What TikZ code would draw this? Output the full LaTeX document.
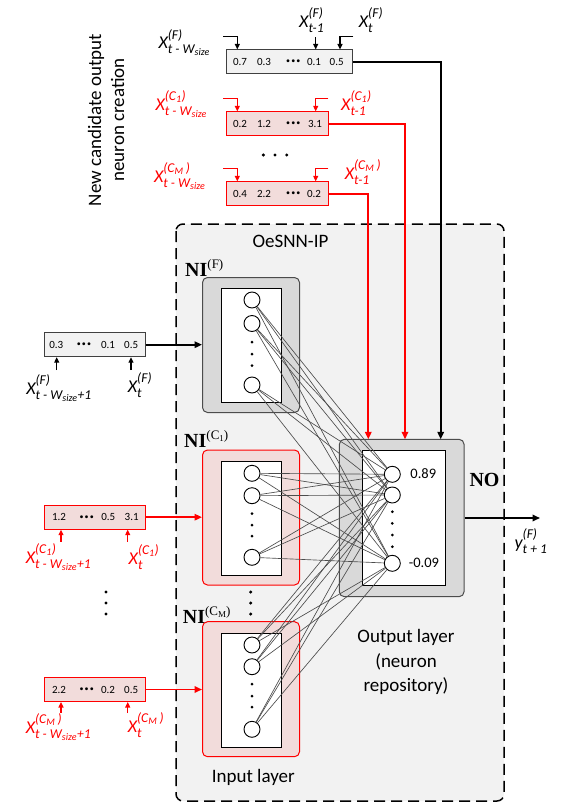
\documentclass[tikz,border=0pt]{standalone}
\usepackage{amsmath}
\usepackage{fontspec}
\setmainfont{Carlito}
\newfontfamily\serifbf{Liberation Serif}
\usetikzlibrary{arrows.meta}
\definecolor{bgray}{HTML}{F2F2F2}
\definecolor{mgray}{HTML}{D9D9D9}
\definecolor{pinkf}{HTML}{F2DCDB}
\definecolor{rred}{HTML}{FF0000}
\DeclareMathSizes{18}{18}{13.5}{10}
\newcommand\lbl[3]{\fontsize{18}{21}\selectfont$\fontdimen14\textfont2=9.5pt\fontdimen17\textfont2=5pt\textit{#1}^{#2}_{#3}$}
\newcommand\nilab[1]{{\serifbf\fontsize{20}{20}\selectfont\textbf{NI}\raisebox{8pt}{\fontsize{13}{13}\selectfont(#1)}}}
\newcommand\sbsc[1]{\raisebox{-2pt}{\fontsize{9}{9}\selectfont #1}}
\newcommand\supF{\textit{(F)}}
\newcommand\supA{\textit{(}\textit{C}_{\textit{1}}\textit{)}}
\newcommand\supB{\textit{(}\textit{C}_{\textit{M}}\textit{\,)}}
\newcommand\subW{\textit{t - W}_{\textit{size}}}
\newcommand\subWp{\textit{t - W}_{\textit{size}}\textit{+1}}
\newcommand\subm{\textit{t-1}}
\newcommand\subt{\textit{t}}
\newcommand\bul{{\fontsize{8}{8}\selectfont\textbullet\kern1.2pt\textbullet\kern1.2pt\textbullet}}
\begin{document}
\begin{tikzpicture}[x=1pt,y=-1pt,
  arr/.style={line width=1.7pt,-{Triangle[length=7.5pt,width=6.5pt]}},
  sarr/.style={line width=1.1pt,-{Triangle[length=5.5pt,width=5pt]}},
  neuron/.style={circle,draw,line width=0.9pt,fill=white,minimum size=16pt,inner sep=0pt},
  conn/.style={draw=black!70,line width=0.65pt},
  graybox/.style={draw=black!70,line width=1pt,fill=mgray,rounded corners=5pt,minimum width=97pt,minimum height=135pt,inner sep=0pt},
  pinkbox/.style={draw=rred,line width=1pt,fill=pinkf,rounded corners=5pt,minimum width=97pt,minimum height=135pt,inner sep=0pt},
  whitebox/.style={draw=black,line width=1pt,fill=white,minimum width=60pt,minimum height=114pt,inner sep=0pt},
  fbuf/.style={draw=black!75,line width=1pt,fill=bgray,minimum height=23.5pt,inner sep=0pt},
  rbuf/.style={draw=rred,line width=1pt,fill=pinkf,minimum height=24pt,inner sep=0pt},
  val/.style={font=\fontsize{11}{11}\selectfont,inner sep=0pt},
  big/.style={font=\fontsize{19}{24.5}\selectfont,inner sep=0pt,align=center},
  bdot/.style={circle,fill=black,inner sep=0pt,minimum size=3.4pt},
  ndot/.style={circle,fill=black,inner sep=0pt,minimum size=3pt},
  lab/.style={inner sep=0pt},
  rlab/.style={inner sep=0pt,text=rred},
]
\useasboundingbox (0,0) rectangle (564,806);
% background of OeSNN-IP
\draw[line width=1.5pt,dash pattern=on 11pt off 6pt,fill=bgray,rounded corners=7pt] (176,224) rectangle (504,801);
\node[big] (title) at (290.5,241) {OeSNN-IP};
% input layer boxes
\node[graybox] (niF) at (251,345) {};
\node[whitebox] (wF) at (251,345.3) {};
\node[pinkbox] (niA) at (251,517.5) {};
\node[whitebox] (wA) at (251,518) {};
\node[pinkbox] (niB) at (251,689.2) {};
\node[whitebox] (wB) at (251,690) {};
% output box
\node[graybox,minimum width=124.7pt,minimum height=157.4pt] (no) at (401.7,518) {};
\node[whitebox,minimum width=83.4pt,minimum height=135.3pt] (wO) at (404,518.3) {};
% neurons
\foreach \n/\y in {1/300,2/323.5,3/385} \node[neuron] (iF\n) at (252,\y) {};
\foreach \n/\y in {1/473.3,2/495.7,3/557.3} \node[neuron] (iA\n) at (252,\y) {};
\foreach \n/\y in {1/645,2/666.7,3/729.3} \node[neuron] (iB\n) at (252,\y) {};
\foreach \n/\y in {1/474.3,2/495,3/563.3} \node[neuron] (o\n) at (392.3,\y) {};
\foreach \i in {iF1,iF2,iF3,iA1,iA2,iA3,iB1,iB2,iB3}
  \foreach \o in {o1,o2,o3} \draw[conn] (\i) -- (\o);
% neuron dots
\foreach \y in {342,354,365.5,513.5,525,536,684,696,707} \node[ndot] at (252,\y) {};
\foreach \y in {511.7,523.3,535,546.7} \node[ndot] at (392.3,\y) {};
\foreach \y in {592,603,614} {\node[bdot] at (250.7,\y) {}; \node[bdot] at (106,\y) {};}
% labels of layers
\node[anchor=base west,lab] (lF) at (185,276.5) {\nilab{F}};
\node[anchor=base west,lab] (lA) at (184,447.3) {\nilab{C\sbsc{1}}};
\node[anchor=base west,lab] (lB) at (182.7,623.3) {\nilab{C\sbsc{M}}};
\node[anchor=base,lab] (lNO) at (484.5,486.7) {\serifbf\fontsize{20}{20}\selectfont\textbf{NO}};
\node[lab,font=\fontsize{14.5}{14.5}\selectfont] (v1) at (423.3,474) {0.89};
\node[lab,font=\fontsize{14.5}{14.5}\selectfont] (v2) at (424,563) {-0.09};
\node[big] (outl) at (406,662) {Output layer\\(neuron\\repository)};
\node[big] (inl) at (253.3,777) {Input layer};
\node[big,font=\fontsize{19}{23}\selectfont,rotate=90] (newc) at (106,120) {New candidate output\\neuron creation};
% output arrow
\coordinate (yout) at (540,518);
\draw[arr] (no.east) -- (yout);
\node[lab] (ylab) at (531,541) {\lbl{y}{\supF}{\textit{t + 1}}};
% top buffers
\node[fbuf,minimum width=126pt] (tF) at (289.7,61.7) {};
\node[val] at (240,62) {0.7}; \node[val] at (264,62) {0.3}; \node[val] at (293.3,62) {\bul};
\node[val] at (314,62) {0.1}; \node[val] at (336.7,62) {0.5};
\node[rbuf,minimum width=101.6pt] (tA) at (277.5,123.8) {};
\node[val] at (240,124) {0.2}; \node[val] at (264,124) {1.2}; \node[val] at (293.3,124) {\bul};
\node[val] at (315,124) {3.1};
\node[rbuf,minimum width=101.6pt] (tB) at (277.5,193.8) {};
\node[val] at (240,194) {0.4}; \node[val] at (264,194) {2.2}; \node[val] at (293.3,194) {\bul};
\node[val] at (314,194) {0.2};
\foreach \x in {263.3,275,286.7} \node[bdot] at (\x,155) {};
% top connections to NO
\coordinate (inF) at (440.7,439.3);
\coordinate (inA) at (405,439.3);
\coordinate (inB) at (368.3,439.3);
\draw[arr] (tF.east) -| (inF);
\draw[arr,draw=rred] (tA.east) -| (inA);
\draw[arr,draw=rred] (tB.east) -| (inB);
% top input arrows
\coordinate (c1) at (237.3,0); \coordinate (c2) at (315.7,0); \coordinate (c3) at (340,0);
\coordinate (f1) at (223.3,36.7); \coordinate (f2) at (315.7,37); \coordinate (f3) at (353.3,36.7);
\draw[sarr] (f1) -| (tF.north -| c1);
\draw[sarr] (f2) -- (tF.north -| c2);
\draw[sarr] (f3) -| (tF.north -| c3);
\coordinate (a1) at (223.3,98.3); \coordinate (a2) at (328.3,98.3);
\draw[sarr,draw=rred] (a1) -| (tA.north -| c1);
\draw[sarr,draw=rred] (a2) -| (tA.north -| c2);
\coordinate (b1) at (223.3,168.3); \coordinate (b2) at (328.3,168.3);
\draw[sarr,draw=rred] (b1) -| (tB.north -| c1);
\draw[sarr,draw=rred] (b2) -| (tB.north -| c2);
% top labels
\node[lab] at (184.5,42.5) {\lbl{X}{\supF}{\subW}};
\node[lab] at (311.7,20) {\lbl{X}{\supF}{\subm}};
\node[lab] at (371,20) {\lbl{X}{\supF}{\subt}};
\node[rlab] at (181.5,104) {\lbl{X}{\supA}{\subW}};
\node[rlab] at (356.5,103) {\lbl{X}{\supA}{\subm}};
\node[rlab] at (180,176) {\lbl{X}{\supB}{\subW}};
\node[rlab] at (363,172) {\lbl{X}{\supB}{\subm}};
% left buffers
\node[fbuf,minimum width=101.3pt,minimum height=24pt] (lbF) at (94.7,344.7) {};
\node[val] at (56.3,344.7) {0.3}; \node[val] at (84,344.7) {\bul};
\node[val] at (108,344.7) {0.1}; \node[val] at (131.2,344.7) {0.5};
\node[rbuf,minimum width=101.3pt] (lbA) at (94.7,517.2) {};
\node[val] at (59,517.2) {1.2}; \node[val] at (86.7,517.2) {\bul};
\node[val] at (108.3,517.2) {0.5}; \node[val] at (131.7,517.2) {3.1};
\node[rbuf,minimum width=101.3pt] (lbB) at (94.7,689.5) {};
\node[val] at (59,689.5) {2.2}; \node[val] at (86.7,689.5) {\bul};
\node[val] at (108,689.5) {0.2}; \node[val] at (131.2,689.5) {0.5};
\draw[arr] (lbF.east) -- (lbF.east -| niF.west);
\draw[arr,draw=rred] (lbA.east) -- (lbA.east -| niA.west);
\draw[arr,draw=rred] (lbB.east) -- (lbB.east -| niB.west);
% left up arrows
\coordinate (u1) at (56.7,370); \coordinate (u2) at (131,370);
\draw[sarr] (u1) -- (u1 |- lbF.south);
\draw[sarr] (u2) -- (u2 |- lbF.south);
\coordinate (u3) at (61,541.7); \coordinate (u4) at (127.7,541.7);
\draw[sarr,draw=rred] (u3) -- (u3 |- lbA.south);
\draw[sarr,draw=rred] (u4) -- (u4 |- lbA.south);
\coordinate (u5) at (61,713); \coordinate (u6) at (127.7,713);
\draw[sarr,draw=rred] (u5) -- (u5 |- lbB.south);
\draw[sarr,draw=rred] (u6) -- (u6 |- lbB.south);
% left labels
\node[lab] at (59,388) {\lbl{X}{\supF}{\subWp}};
\node[lab] at (140,385) {\lbl{X}{\supF}{\subt}};
\node[rlab] at (58.5,557) {\lbl{X}{\supA}{\subWp}};
\node[rlab] at (144,557) {\lbl{X}{\supA}{\subt}};
\node[rlab] at (58.5,727) {\lbl{X}{\supB}{\subWp}};
\node[rlab] at (146,725) {\lbl{X}{\supB}{\subt}};
\end{tikzpicture}
\end{document}
